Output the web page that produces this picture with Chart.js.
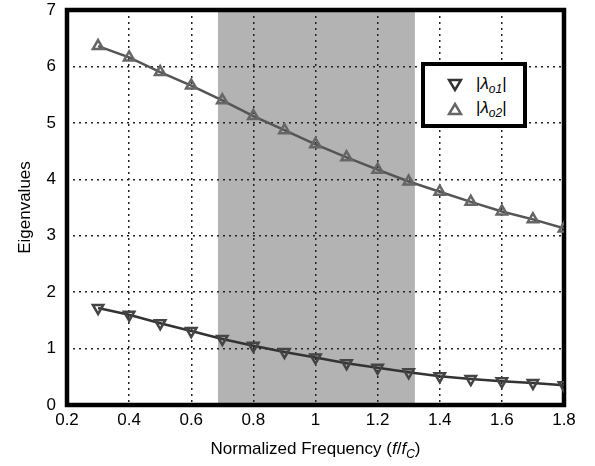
<!DOCTYPE html>
<html>
<head>
<meta charset="utf-8">
<script src="https://cdn.jsdelivr.net/npm/chart.js@4/dist/chart.umd.min.js"></script>
<style>
  html,body{margin:0;padding:0;background:#fff;}
  #wrap{position:relative;width:595px;height:466px;font-family:"Liberation Sans",Arial,sans-serif;}
  canvas{position:absolute;left:0;top:0;}
  #xtitle{position:absolute;left:67px;width:497px;top:439px;text-align:center;font-size:17px;color:#000;}
  #xtitle sub{font-size:12px;vertical-align:-4px;}
  #legend{position:absolute;left:421px;top:62px;width:98px;height:58px;border:4px solid #000;background:#fff;font-size:17px;}
  .row{position:absolute;left:0;height:22px;width:100%;}
  .row svg{position:absolute;left:22px;top:4px;}
  .row span{position:absolute;left:51px;top:0px;}
  .row sub{font-size:12px;vertical-align:-4px;font-style:italic;}
</style>
</head>
<body>
<div id="wrap">
<canvas id="c" width="595" height="466"></canvas>
<div id="xtitle">Normalized Frequency (<i>f</i>/<i>f</i><sub><i>C</i></sub>)</div>
<div id="legend">
  <div class="row" style="top:8px"><svg width="16" height="14"><polygon points="2,2 14,2 8,12" fill="none" stroke="#333" stroke-width="2.5"/></svg><span>|<i>λ</i><sub>o1</sub>|</span></div>
  <div class="row" style="top:32px"><svg width="16" height="14"><polygon points="2,12 14,12 8,2" fill="none" stroke="#666" stroke-width="2.5"/></svg><span>|<i>λ</i><sub>o2</sub>|</span></div>
</div>
</div>
<script>
const freq = [0.3,0.4,0.5,0.6,0.7,0.8,0.9,1.0,1.1,1.2,1.3,1.4,1.5,1.6,1.7,1.8];
const lambda1 = [1.72,1.60,1.45,1.31,1.17,1.05,0.94,0.84,0.74,0.66,0.58,0.51,0.46,0.42,0.39,0.35];
const lambda2 = [6.36,6.16,5.90,5.66,5.40,5.12,4.87,4.62,4.39,4.17,3.96,3.78,3.60,3.43,3.29,3.13];
const shadeRange = [0.686, 1.32];
const xTicks = [0.2,0.4,0.6,0.8,1.0,1.2,1.4,1.6,1.8];
const yTicks = [0,1,2,3,4,5,6,7];

const shadePlugin = {
  id:'shade',
  beforeDraw(chart){
    const {ctx, chartArea:a, scales:{x}} = chart;
    const x0 = x.getPixelForValue(shadeRange[0]), x1 = x.getPixelForValue(shadeRange[1]);
    ctx.save();
    ctx.fillStyle = '#b3b3b3';
    ctx.fillRect(x0, a.top, x1-x0, a.bottom-a.top);
    ctx.restore();
  },
  beforeDatasetsDraw(chart){
    const {ctx, chartArea:a} = chart;
    ctx.save();
    ctx.strokeStyle = '#000';
    ctx.lineWidth = 4.5;
    ctx.strokeRect(a.left, a.top, a.right-a.left, a.bottom-a.top);
    ctx.restore();
  }
};

const toXY = arr => freq.map((f,i)=>({x:f,y:arr[i]}));
const tickFont = {family:'Liberation Sans', size:17};

new Chart(document.getElementById('c'), {
  type:'line',
  data:{datasets:[
    {label:'|λo1|', data:toXY(lambda1), borderColor:'#333', borderWidth:2.5,
     pointStyle:'triangle', rotation:180, pointRadius:6, pointBorderWidth:2.5,
     pointBorderColor:'#444', pointBackgroundColor:'rgba(0,0,0,0)', tension:0},
    {label:'|λo2|', data:toXY(lambda2), borderColor:'#555', borderWidth:2.5,
     pointStyle:'triangle', pointRadius:6, pointBorderWidth:2.5,
     pointBorderColor:'#666', pointBackgroundColor:'rgba(0,0,0,0)', tension:0}
  ]},
  options:{
    responsive:false, animation:false, devicePixelRatio:1,
    layout:{padding:{top:10,right:31,left:0,bottom:0}},
    plugins:{legend:{display:false}, tooltip:{enabled:false}},
    scales:{
      x:{type:'linear', min:0.2, max:1.8,
        afterBuildTicks(s){ s.ticks = xTicks.map(v=>({value:v})); },
        afterFit(s){ s.height = 61; },
        ticks:{font:tickFont, color:'#000', padding:5,
          callback:v=>String(Math.round(v*10)/10)},
        grid:{color:'#222', lineWidth:1.5, drawTicks:false},
        border:{display:false, dash:[2,4]}
      },
      y:{type:'linear', min:0, max:7,
        afterBuildTicks(s){ s.ticks = yTicks.map(v=>({value:v})); },
        afterFit(s){ s.width = 67; s.paddingTop = 0; s.paddingBottom = 0; },
        title:{display:true, text:'Eigenvalues', font:tickFont, color:'#000', padding:{top:15,bottom:0}},
        ticks:{font:tickFont, color:'#000', padding:11},
        grid:{color:'#222', lineWidth:1.5, drawTicks:false},
        border:{display:false, dash:[2,4]}
      }
    }
  },
  plugins:[shadePlugin]
});
</script>
</body>
</html>
